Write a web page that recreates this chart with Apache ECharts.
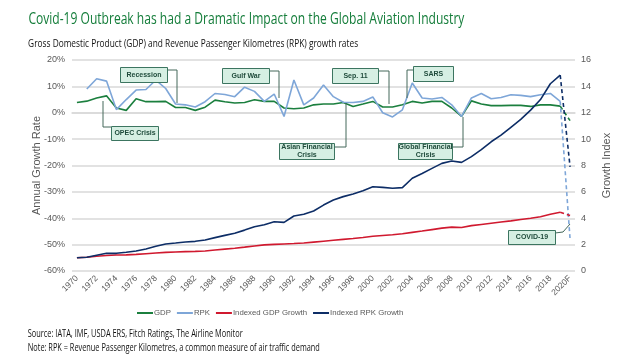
<!DOCTYPE html>
<html><head><meta charset="utf-8">
<script src="https://cdn.jsdelivr.net/npm/echarts@6/dist/echarts.min.js"></script>
<style>html,body{margin:0;padding:0;background:#fff}#c{width:621px;height:360px}</style>
</head><body><div id="c"></div>
<script>
var years = ["1970","1971","1972","1973","1974","1975","1976","1977","1978","1979","1980","1981","1982","1983","1984","1985","1986","1987","1988","1989","1990","1991","1992","1993","1994","1995","1996","1997","1998","1999","2000","2001","2002","2003","2004","2005","2006","2007","2008","2009","2010","2011","2012","2013","2014","2015","2016","2017","2018","2019","2020F"];
var gdp = [3.9,4.4,5.6,6.4,1.8,0.9,5.3,4.2,4.2,4.3,2.0,2.0,0.9,2.1,4.8,4.2,3.7,3.9,4.9,4.3,4.3,1.8,1.5,1.8,3.0,3.3,3.3,3.9,2.4,3.3,4.3,2.2,2.2,3.0,4.3,3.7,4.3,4.3,1.8,-1.4,4.5,3.3,2.7,2.7,2.8,2.8,2.4,3.0,3.0,2.5,-3.0];
var rpk = [null,9.0,12.9,12.0,1.2,5.0,8.6,8.8,12.4,9.2,3.3,3.0,2.2,4.2,7.3,6.9,6.1,9.7,8.1,4.3,7.1,-1.4,12.4,3.0,5.6,10.5,6.1,4.0,3.9,4.3,6.0,0.0,-1.6,1.1,11.3,5.6,5.2,5.8,3.0,-1.4,5.6,7.3,5.3,5.8,6.8,6.6,6.1,6.8,7.3,4.3,-48.0];
var idxGdp = [1.0,1.04,1.12,1.18,1.21,1.22,1.26,1.31,1.36,1.41,1.44,1.47,1.49,1.52,1.59,1.66,1.73,1.81,1.9,1.98,2.02,2.05,2.08,2.12,2.19,2.26,2.33,2.4,2.46,2.54,2.63,2.69,2.75,2.82,2.93,3.03,3.14,3.25,3.33,3.3,3.44,3.53,3.62,3.71,3.8,3.9,4.0,4.12,4.3,4.45,4.2];
var idxRpk = [1.0,1.04,1.2,1.34,1.34,1.42,1.52,1.67,1.87,2.05,2.12,2.2,2.25,2.35,2.53,2.7,2.86,3.1,3.36,3.51,3.74,3.69,4.17,4.3,4.55,5.0,5.38,5.64,5.84,6.09,6.39,6.34,6.27,6.32,7.03,7.4,7.78,8.16,8.34,8.24,8.67,9.2,9.8,10.3,10.9,11.5,12.2,13.0,14.2,14.85,7.9];
var leftTicks = {min:-60, max:20, interval:10};
var rightTicks = {min:0, max:16, interval:2};
var seriesNames = ['GDP','RPK','Indexed GDP Growth','Indexed RPK Growth'];
var titleText = 'Covid-19 Outbreak has had a Dramatic Impact on the Global Aviation Industry';
var subtitleText = 'Gross Domestic Product (GDP) and Revenue Passenger Kilometres (RPK) growth rates';
var sourceText = 'Source: IATA, IMF, USDA ERS, Fitch Ratings, The Airline Monitor';
var noteText = 'Note: RPK = Revenue Passenger Kilometres, a common measure of air traffic demand';
var annotations = [
  {text:"Recession", box:[120,67,47,15], leader:[[167,70],[177,70],[177,103]]},
  {text:"OPEC Crisis", box:[111,126,47,14], leader:[[103,101],[103,127],[111,127]]},
  {text:"Gulf War", box:[222,68,47,15], leader:[[269,71],[279,71],[279,98]]},
  {text:"Sep. 11", box:[332,68,46,15], leader:[[378,71],[389,71],[389,104]]},
  {text:"SARS", box:[413,66,40,15], leader:[[413,70],[407,70],[407,98]]},
  {text:"Asian Financial\nCrisis", box:[279,143,55,16], leader:[[334,147],[346,147],[346,103]]},
  {text:"Global Financial\nCrisis", box:[398,143,54,16], leader:[[452,147],[463,147],[463,117]]},
  {text:"COVID-19", box:[508,230,47,14], leader:[[555,233],[563,232],[570,224]]}
];

function solidPart(a){ return a.map(function(v,i){ return i < a.length-1 ? v : null; }); }
function dashPart(a){ return a.map(function(v,i){ return i >= a.length-2 ? v : null; }); }

var C = {gdp:'#1b7f3e', rpk:'#7ea6d8', igdp:'#d0192f', irpk:'#0d2d66'};
var FONT = '"Liberation Sans", Arial, sans-serif';
var HUM = '"Open Sans", "Noto Sans", sans-serif';

var mctx = document.createElement('canvas').getContext('2d');
function fitText(text, x, y, font, width, color){
  mctx.font = font;
  var w = mctx.measureText(text).width;
  return {type:'text', x:x, y:y, scaleX: width / w, originX:x, originY:y,
    style:{text:text, font:font, fill:color, align:'left', verticalAlign:'top'}};
}

function mk(name, data, color, yi, dashed){
  return {name:name, type:'line', yAxisIndex:yi, data: dashed ? dashPart(data) : solidPart(data),
    symbol:'none', connectNulls:false, silent:true, animation:false,
    lineStyle:{color:color, width:1.6, type: dashed ? [4,3] : 'solid'}, itemStyle:{color:color}};
}

var graphics = [];
annotations.forEach(function(a){
  graphics.push({type:'polyline', shape:{points:a.leader}, style:{stroke:'#44685a', lineWidth:1, fill:null}, z:10});
  graphics.push({type:'rect', shape:{x:a.box[0]+0.5, y:a.box[1]+0.5, width:a.box[2], height:a.box[3]},
    style:{fill:'#d6efe3', stroke:'#3c7560', lineWidth:1}, z:11});
  graphics.push({type:'text', x:a.box[0]+a.box[2]/2+0.5, y:a.box[1]+a.box[3]/2+0.5,
    style:{text:a.text, fill:'#1f4b3b', font:'bold 7px ' + FONT, align:'center', verticalAlign:'middle', lineHeight:8}, z:12});
});
graphics.push(fitText(titleText, 22, 11, '17px ' + HUM, 436, '#147d3a'));
graphics.push(fitText(subtitleText, 22, 38, '11.5px ' + HUM, 330, '#111'));
graphics.push(fitText(sourceText, 22, 329, '10px ' + HUM, 215, '#111'));
graphics.push(fitText(noteText, 22, 343, '10px ' + HUM, 292, '#111'));

var chart = echarts.init(document.getElementById('c'), null, {renderer:'canvas', width:621, height:360});
chart.setOption({
  animation:false,
  backgroundColor:'#fff',
  grid:{left:72, right:46, top:60, bottom:89},
  legend:{left:137, top:309, padding:0, icon:'rect', itemWidth:16, itemHeight:2, itemGap:6,
    textStyle:{color:'#595959', fontSize:7.8, fontFamily:FONT, padding:[0,0,0,-4]},
    data:seriesNames},
  xAxis:{type:'category', data:years, boundaryGap:true,
    axisLine:{lineStyle:{color:'#d9d9d9', width:1.5}}, axisTick:{show:false},
    axisLabel:{interval:1, rotate:45, fontSize:8.5, color:'#595959', fontFamily:FONT, margin:6}},
  yAxis:[
    {type:'value', min:leftTicks.min, max:leftTicks.max, interval:leftTicks.interval,
     axisLabel:{formatter:'{value}%', fontSize:9, color:'#595959', fontFamily:FONT, margin:7},
     splitLine:{lineStyle:{color:'#d9d9d9', width:1.5}}, axisLine:{show:false}, axisTick:{show:false},
     name:'Annual Growth Rate', nameLocation:'middle', nameGap:30, nameRotate:90, nameMoveOverlap:false,
     nameTextStyle:{fontSize:11, color:'#595959', fontFamily:FONT}},
    {type:'value', min:rightTicks.min, max:rightTicks.max, interval:rightTicks.interval, position:'right',
     axisLabel:{fontSize:9, color:'#595959', fontFamily:FONT, margin:6},
     splitLine:{show:false}, axisLine:{show:false}, axisTick:{show:false},
     name:'Growth Index', nameLocation:'middle', nameGap:24, nameRotate:90,
     nameTextStyle:{fontSize:11, color:'#595959', fontFamily:FONT}}
  ],
  series:[
    mk(seriesNames[0], gdp, C.gdp, 0, false),
    mk(seriesNames[1], rpk, C.rpk, 0, false),
    mk(seriesNames[2], idxGdp, C.igdp, 1, false),
    mk(seriesNames[3], idxRpk, C.irpk, 1, false),
    mk(seriesNames[0], gdp, C.gdp, 0, true),
    mk(seriesNames[1], rpk, C.rpk, 0, true),
    mk(seriesNames[2], idxGdp, C.igdp, 1, true),
    mk(seriesNames[3], idxRpk, C.irpk, 1, true)
  ],
  graphic:graphics
});
</script></body></html>
